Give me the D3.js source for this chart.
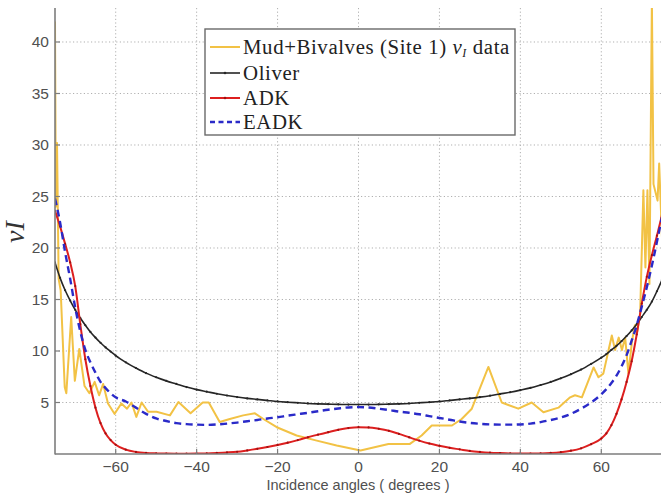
<!DOCTYPE html>
<html>
<head>
<meta charset="utf-8">
<script src="https://cdn.jsdelivr.net/npm/d3@7"></script>
<style>
  html, body { margin: 0; padding: 0; background: #fff; }
  svg { display: block; }
</style>
</head>
<body>
<svg id="chart" width="661" height="493"></svg>
<script>
// Incidence angle grid shared by the three model curves (degrees)
const modelAngles = [
  -75, -73.75, -72.5, -71.25, -70, -68.75, -67.5, -66.25, -65, -63.75, -62.5, -61.25, -60,
  -57.5, -55, -52.5, -50, -47.5, -45, -42.5, -40, -37.5, -35, -32.5, -30, -27.5, -25, -22.5,
  -20, -17.5, -15, -12.5, -10, -7.5, -5, -2.5, 0, 2.5, 5, 7.5, 10, 12.5, 15, 17.5, 20, 22.5,
  25, 27.5, 30, 32.5, 35, 37.5, 40, 42.5, 45, 47.5, 50, 52.5, 55, 57.5,
  60, 61.25, 62.5, 63.75, 65, 66.25, 67.5, 68.75, 70, 71.25, 72.5, 73.75, 75
];

const oliverValues = [
  18.6, 17.1, 15.9, 14.9, 14.0, 13.2, 12.5, 11.85, 11.3, 10.8, 10.35, 9.95, 9.55,
  8.9, 8.35, 7.85, 7.45, 7.1, 6.8, 6.5, 6.25, 6.05, 5.85, 5.68, 5.53, 5.4, 5.3, 5.2,
  5.1, 5.03, 4.97, 4.91, 4.87, 4.84, 4.82, 4.8, 4.8, 4.8, 4.82, 4.84, 4.87, 4.91, 4.97, 5.03, 5.1, 5.2,
  5.3, 5.4, 5.52, 5.66, 5.83, 6.0, 6.2, 6.42, 6.7, 7.0, 7.35, 7.75, 8.2, 8.75,
  9.35, 9.7, 10.1, 10.5, 10.95, 11.45, 12.0, 12.6, 13.3, 14.0, 14.8, 15.8, 16.9
];

const adkValues = [
  23.6, 22.1, 20.4, 18.6, 16.3, 12.6, 9.2, 6.6, 4.5, 3.0, 2.0, 1.35, 0.9,
  0.42, 0.2, 0.1, 0.06, 0.04, 0.03, 0.03, 0.04, 0.06, 0.1, 0.15, 0.22, 0.35, 0.5, 0.68,
  0.88, 1.1, 1.35, 1.62, 1.88, 2.12, 2.35, 2.52, 2.6, 2.58, 2.45, 2.25, 1.95, 1.62, 1.3, 1.02, 0.8, 0.6,
  0.45, 0.3, 0.2, 0.13, 0.09, 0.06, 0.05, 0.05, 0.06, 0.1, 0.18, 0.32, 0.55, 0.95,
  1.5, 2.0, 2.8, 3.9, 5.3, 7.0, 9.0, 11.6, 14.6, 17.2, 19.3, 21.2, 23.2
];

const eadkValues = [
  24.8, 22.5, 19.6, 17.0, 14.2, 11.9, 10.1, 8.9, 7.9, 7.0, 6.4, 5.9, 5.5,
  5.1, 4.5, 3.9, 3.45, 3.2, 3.0, 2.9, 2.85, 2.83, 2.87, 2.95, 3.05, 3.18, 3.3, 3.45,
  3.57, 3.72, 3.86, 4.0, 4.15, 4.3, 4.42, 4.52, 4.55, 4.52, 4.4, 4.27, 4.12, 4.0, 3.86, 3.68, 3.5, 3.33,
  3.15, 3.02, 2.93, 2.87, 2.85, 2.85, 2.87, 2.95, 3.1, 3.3, 3.55, 3.9, 4.4, 5.0,
  5.8, 6.3, 6.9, 7.6, 8.5, 9.6, 11.0, 12.5, 14.3, 16.2, 18.3, 20.6, 23.0
];

// Measured nu_I for Mud+Bivalves (Site 1)
const dataAngles = [
  -75, -74.8, -74.5, -74.1, -73.6, -72.6, -72.2, -71.0, -70.1, -69.0, -67.7, -66.5, -65.2,
  -64.1, -63.1, -61.9, -60.3, -58.6, -57.2, -56.1, -54.9, -53.6, -52.0, -49.9, -46.6, -44.5,
  -41.5, -38.5, -37.0, -34.3, -31.8, -28.5, -25.6, -23.5, -20.2, -15.3, -10.3, -5.4, 0.5,
  7.4, 12.7, 15.6, 18.1, 23.1, 25.5, 28.0, 32.1, 35.4, 39.5, 42.8, 45.7, 49.4, 52.3, 53.5,
  55.2, 58.1, 59.3, 60.5, 61.8, 62.6, 63.4, 64.3, 65.1, 65.9, 66.7, 67.6, 68.3, 68.8, 69.6,
  70.4, 70.9, 71.4, 71.9, 72.5, 72.9, 73.9, 74.3, 75
];
const dataValues = [
  42.0, 24.0, 30.2, 17.0, 15.9, 6.5, 5.9, 13.3, 7.1, 10.2, 6.6, 5.9, 7.0,
  5.7, 6.8, 4.9, 3.9, 4.9, 4.4, 5.0, 3.6, 5.0, 4.1, 4.1, 3.75, 5.05,
  3.95, 5.0, 5.0, 3.1, 3.4, 3.75, 3.95, 3.4, 2.6, 1.8, 1.3, 0.83, 0.34,
  0.98, 0.98, 1.8, 2.77, 2.77, 3.4, 4.4, 8.45, 5.0, 4.4, 5.0, 4.06, 4.5, 5.5, 5.7,
  5.5, 8.4, 7.45, 7.8, 10.1, 11.5, 10.1, 11.3, 10.1, 11.3, 7.8, 11.0, 12.5, 11.7, 13.6,
  25.6, 18.1, 25.6, 16.5, 44, 26.2, 24.6, 28.2, 21.0
];

const xTicks = [-60, -40, -20, 0, 20, 40, 60];
const yTicks = [5, 10, 15, 20, 25, 30, 35, 40];

const colors = { data: "#f2c245", oliver: "#262626", adk: "#dd1f1f", eadk: "#2a2ac8" };

const plot = { left: 55, right: 662, top: 8, bottom: 454 };
const svg = d3.select("#chart");

const x = d3.scaleLinear().domain([-75, 75]).range([plot.left, plot.right]);
const y = d3.scaleLinear().domain([0, 43.3]).range([plot.bottom, plot.top]);

svg.append("defs").append("clipPath").attr("id", "plotClip")
  .append("rect")
  .attr("x", plot.left).attr("y", plot.top)
  .attr("width", plot.right - plot.left).attr("height", plot.bottom - plot.top);

// Dotted grid
const grid = svg.append("g").attr("stroke", "#b0b0b0").attr("stroke-width", 1)
  .attr("stroke-dasharray", "1.2,2.4");
grid.selectAll("line.v").data(xTicks).join("line").attr("class", "v")
  .attr("x1", d => x(d)).attr("x2", d => x(d))
  .attr("y1", plot.top).attr("y2", plot.bottom);
grid.selectAll("line.h").data(yTicks).join("line").attr("class", "h")
  .attr("x1", plot.left).attr("x2", plot.right)
  .attr("y1", d => y(d)).attr("y2", d => y(d));

// Curves
const g = svg.append("g").attr("clip-path", "url(#plotClip)");
const smooth = d3.line().x(d => x(d[0])).y(d => y(d[1])).curve(d3.curveMonotoneX);
const straight = d3.line().x(d => x(d[0])).y(d => y(d[1]));

const dataPts = dataAngles.map((a, i) => [a, dataValues[i]]);
const oliverPts = modelAngles.map((a, i) => [a, oliverValues[i]]);
const adkPts = modelAngles.map((a, i) => [a, adkValues[i]]);
const eadkPts = modelAngles.map((a, i) => [a, eadkValues[i]]);

g.append("path").attr("d", straight(dataPts)).attr("fill", "none")
  .attr("stroke", colors.data).attr("stroke-width", 2).attr("stroke-linejoin", "round");

g.append("path").attr("d", smooth(oliverPts)).attr("fill", "none")
  .attr("stroke", colors.oliver).attr("stroke-width", 1.6);
g.selectAll("circle.ol").data(oliverPts).join("circle").attr("class", "ol")
  .attr("cx", d => x(d[0])).attr("cy", d => y(d[1])).attr("r", 1.1).attr("fill", colors.oliver);

g.append("path").attr("d", smooth(adkPts)).attr("fill", "none")
  .attr("stroke", colors.adk).attr("stroke-width", 2);
g.selectAll("circle.adk").data(adkPts).join("circle").attr("class", "adk")
  .attr("cx", d => x(d[0])).attr("cy", d => y(d[1])).attr("r", 1.1).attr("fill", "#a01010");

g.append("path").attr("d", smooth(eadkPts)).attr("fill", "none")
  .attr("stroke", colors.eadk).attr("stroke-width", 2.4).attr("stroke-dasharray", "7,4.5");

// Axes
const axisColor = "#7d7d7d";
const axisG = svg.append("g");
axisG.append("line").attr("x1", plot.left).attr("x2", plot.left)
  .attr("y1", plot.top).attr("y2", plot.bottom + 0.5)
  .attr("stroke", axisColor).attr("stroke-width", 1.6);
axisG.append("line").attr("x1", plot.left).attr("x2", plot.right)
  .attr("y1", plot.bottom).attr("y2", plot.bottom)
  .attr("stroke", axisColor).attr("stroke-width", 1.6);

axisG.selectAll("line.xt").data(xTicks).join("line").attr("class", "xt")
  .attr("x1", d => x(d)).attr("x2", d => x(d))
  .attr("y1", plot.bottom).attr("y2", plot.bottom - 5)
  .attr("stroke", axisColor).attr("stroke-width", 1.2);
axisG.selectAll("line.yt").data(yTicks).join("line").attr("class", "yt")
  .attr("x1", plot.left).attr("x2", plot.left + 5)
  .attr("y1", d => y(d)).attr("y2", d => y(d))
  .attr("stroke", axisColor).attr("stroke-width", 1.2);

const labelFont = "'Liberation Sans', Arial, Helvetica, sans-serif";
const fmt = d => (d < 0 ? "\u2212" + Math.abs(d) : String(d));

axisG.selectAll("text.xl").data(xTicks).join("text").attr("class", "xl")
  .attr("x", d => x(d)).attr("y", 472)
  .attr("text-anchor", "middle")
  .attr("font-family", labelFont).attr("font-size", 15.5).attr("fill", "#505050")
  .text(fmt);
axisG.selectAll("text.yl").data(yTicks).join("text").attr("class", "yl")
  .attr("x", 49).attr("y", d => y(d) + 5.5)
  .attr("text-anchor", "end")
  .attr("font-family", labelFont).attr("font-size", 15.5).attr("fill", "#505050")
  .text(d => d);

svg.append("text").attr("x", 358).attr("y", 490)
  .attr("text-anchor", "middle")
  .attr("font-family", labelFont).attr("font-size", 14.5).attr("fill", "#505050")
  .text("Incidence angles ( degrees )");

const yTitle = svg.append("text")
  .attr("transform", "translate(24,232) rotate(-90)")
  .attr("text-anchor", "middle")
  .attr("font-family", "'Liberation Serif', 'DejaVu Serif', serif")
  .attr("font-style", "italic").attr("font-size", 28).attr("fill", "#333");
yTitle.append("tspan").text("\u03BD");
yTitle.append("tspan").text("I");

// Legend
const serif = "'Liberation Serif', 'DejaVu Serif', serif";
const legend = svg.append("g");
legend.append("rect").attr("x", 205).attr("y", 29).attr("width", 310).attr("height", 106)
  .attr("fill", "#fff").attr("stroke", "#6a6a6a").attr("stroke-width", 1.4);

const entries = [
  { key: "data", y: 47 },
  { key: "oliver", y: 73, label: "Oliver" },
  { key: "adk", y: 98, label: "ADK" },
  { key: "eadk", y: 122, label: "EADK" }
];
const legendTexts = [];
entries.forEach(e => {
  const ln = legend.append("line").attr("x1", 210).attr("x2", 240)
    .attr("y1", e.y).attr("y2", e.y).attr("stroke", colors[e.key])
    .attr("stroke-width", e.key === "oliver" ? 1.6 : 2);
  if (e.key === "eadk") ln.attr("stroke-width", 2.4).attr("stroke-dasharray", "5,3.5");
  if (e.key === "oliver" || e.key === "adk") {
    legend.append("circle").attr("cx", 225).attr("cy", e.y).attr("r", 1.3)
      .attr("fill", e.key === "adk" ? "#a01010" : colors.oliver);
  }
  const t = legend.append("text").attr("x", 243).attr("y", e.y + 6.5)
    .attr("font-family", serif).attr("font-size", 20).attr("fill", "#222")
    .attr("letter-spacing", 0.6);
  if (e.key === "data") {
    t.append("tspan").text("Mud+Bivalves (Site 1) ");
    t.append("tspan").attr("font-style", "italic").text("\u03BD");
    t.append("tspan").attr("font-style", "italic").attr("font-size", 12).attr("dy", 3).text("I");
    t.append("tspan").attr("dy", -3).text(" data");
  } else {
    t.text(e.label);
  }
  legendTexts.push(t);
});

// Fit the longest legend entry to the box width
const first = legendTexts[0].node();
const w = first.getComputedTextLength();
const targetW = 268;
if (w > 0) {
  const scale = targetW / w;
  legendTexts.forEach(t => t.attr("font-size", 20 * Math.min(scale, 1.12)));
}
</script>
</body>
</html>
